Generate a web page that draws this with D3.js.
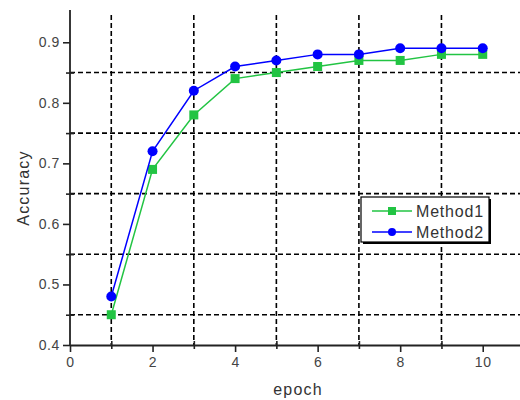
<!DOCTYPE html>
<html>
<head>
<meta charset="utf-8">
<script src="https://cdn.jsdelivr.net/npm/d3@7"></script>
<style>
body { margin: 0; background: #fff; }
svg { display: block; font-family: "Liberation Sans", Arial, sans-serif; }
.tick text { fill: #444; font-size: 14px; letter-spacing: 0.6px; }
.grid line { stroke: #000; stroke-width: 1.6; stroke-dasharray: 5,3; }
</style>
</head>
<body>
<script>
var width = 520, height = 400;

// data
var epochs = [1, 2, 3, 4, 5, 6, 7, 8, 9, 10];
var method1 = [0.45, 0.69, 0.78, 0.84, 0.85, 0.86, 0.87, 0.87, 0.88, 0.88];
var method2 = [0.48, 0.72, 0.82, 0.86, 0.87, 0.88, 0.88, 0.89, 0.89, 0.89];
var xTicks = [0, 2, 4, 6, 8, 10];
var xMinor = [1, 3, 5, 7, 9];
var yTicks = [0.4, 0.5, 0.6, 0.7, 0.8, 0.9];
var yMinor = [0.45, 0.55, 0.65, 0.75, 0.85];

var series = [
  {name: "Method1", values: method1, color: "#22c443", shape: "square"},
  {name: "Method2", values: method2, color: "#0000ff", shape: "circle"}
];

var x = d3.scaleLinear().domain([0, 11]).range([70, 524]);
var y = d3.scaleLinear().domain([0.4, 0.95]).range([345, 12]);

var svg = d3.select("body").append("svg")
    .attr("width", width)
    .attr("height", height);

// dashed grid
var grid = svg.append("g").attr("class", "grid");
grid.selectAll("line.v")
    .data(xMinor).enter().append("line")
    .attr("class", "v")
    .attr("x1", function(d) { return x(d); })
    .attr("x2", function(d) { return x(d); })
    .attr("y1", y(0.945))
    .attr("y2", y(0.4));
grid.selectAll("line.h")
    .data(yMinor).enter().append("line")
    .attr("class", "h")
    .attr("x1", x(0))
    .attr("x2", width)
    .attr("y1", function(d) { return y(d); })
    .attr("y2", function(d) { return y(d); });

// axes
var xAxis = svg.append("g")
    .attr("transform", "translate(0," + y(0.4) + ")")
    .call(d3.axisBottom(x).tickValues(xTicks).tickSize(7).tickSizeOuter(0).tickPadding(5).tickFormat(d3.format("d")));
var xMinorAxis = svg.append("g")
    .attr("transform", "translate(0," + (y(0.4) - 4) + ")")
    .call(d3.axisBottom(x).tickValues(xMinor).tickSize(8).tickFormat(""));
xMinorAxis.select(".domain").remove();

var yAxis = svg.append("g")
    .attr("transform", "translate(" + x(0) + ",0)")
    .call(d3.axisLeft(y).tickValues(yTicks).tickSize(7).tickSizeOuter(0).tickPadding(3).tickFormat(d3.format(".1f")));
var yMinorAxis = svg.append("g")
    .attr("transform", "translate(" + (x(0) + 4) + ",0)")
    .call(d3.axisLeft(y).tickValues(yMinor).tickSize(8).tickFormat(""));
yMinorAxis.select(".domain").remove();

svg.selectAll(".domain").attr("stroke", "#222").attr("stroke-width", 1.8);
svg.selectAll(".tick line").attr("stroke", "#222").attr("stroke-width", 1.6);

// y axis line runs a bit above the last value
yAxis.select(".domain").attr("d", "M0," + y(0.4) + "V10");

// axis titles
svg.append("text")
    .attr("x", 298)
    .attr("y", 395)
    .attr("text-anchor", "middle")
    .attr("font-size", 16)
    .attr("letter-spacing", 1.2)
    .attr("fill", "#333")
    .text("epoch");
svg.append("text")
    .attr("transform", "translate(29,188)rotate(-90)")
    .attr("text-anchor", "middle")
    .attr("font-size", 16)
    .attr("letter-spacing", 1.2)
    .attr("fill", "#333")
    .text("Accuracy");

// lines and markers
var line = d3.line()
    .x(function(d, i) { return x(epochs[i]); })
    .y(function(d) { return y(d); });

series.forEach(function(s) {
  var g = svg.append("g");
  g.append("path")
      .datum(s.values)
      .attr("fill", "none")
      .attr("stroke", s.color)
      .attr("stroke-width", 1.5)
      .attr("d", line);
  if (s.shape == "square") {
    g.selectAll("rect")
        .data(s.values).enter().append("rect")
        .attr("x", function(d, i) { return x(epochs[i]) - 4.5; })
        .attr("y", function(d) { return y(d) - 4.5; })
        .attr("width", 9)
        .attr("height", 9)
        .attr("fill", s.color);
  } else {
    g.selectAll("circle")
        .data(s.values).enter().append("circle")
        .attr("cx", function(d, i) { return x(epochs[i]); })
        .attr("cy", function(d) { return y(d); })
        .attr("r", 5)
        .attr("fill", s.color);
  }
});

// legend
var legend = svg.append("g").attr("transform", "translate(361,197)");
legend.append("rect")
    .attr("x", 2).attr("y", 2)
    .attr("width", 128).attr("height", 45)
    .attr("fill", "#000");
legend.append("rect")
    .attr("width", 128).attr("height", 45)
    .attr("fill", "#fff")
    .attr("stroke", "#000")
    .attr("stroke-width", 1.2);

var item = legend.selectAll("g.item")
    .data(series).enter().append("g")
    .attr("class", "item")
    .attr("transform", function(d, i) { return "translate(0," + (14 + i * 21) + ")"; });
item.append("line")
    .attr("x1", 11).attr("x2", 51)
    .attr("stroke", function(d) { return d.color; })
    .attr("stroke-width", 1.5);
item.filter(function(d) { return d.shape == "square"; }).append("rect")
    .attr("x", 27).attr("y", -4).attr("width", 8).attr("height", 8)
    .attr("fill", function(d) { return d.color; });
item.filter(function(d) { return d.shape == "circle"; }).append("circle")
    .attr("cx", 31).attr("r", 4)
    .attr("fill", function(d) { return d.color; });
item.append("text")
    .attr("x", 55).attr("dy", "0.36em")
    .attr("font-size", 16)
    .attr("letter-spacing", 0.8)
    .attr("fill", "#333")
    .text(function(d) { return d.name; });
</script>
</body>
</html>
